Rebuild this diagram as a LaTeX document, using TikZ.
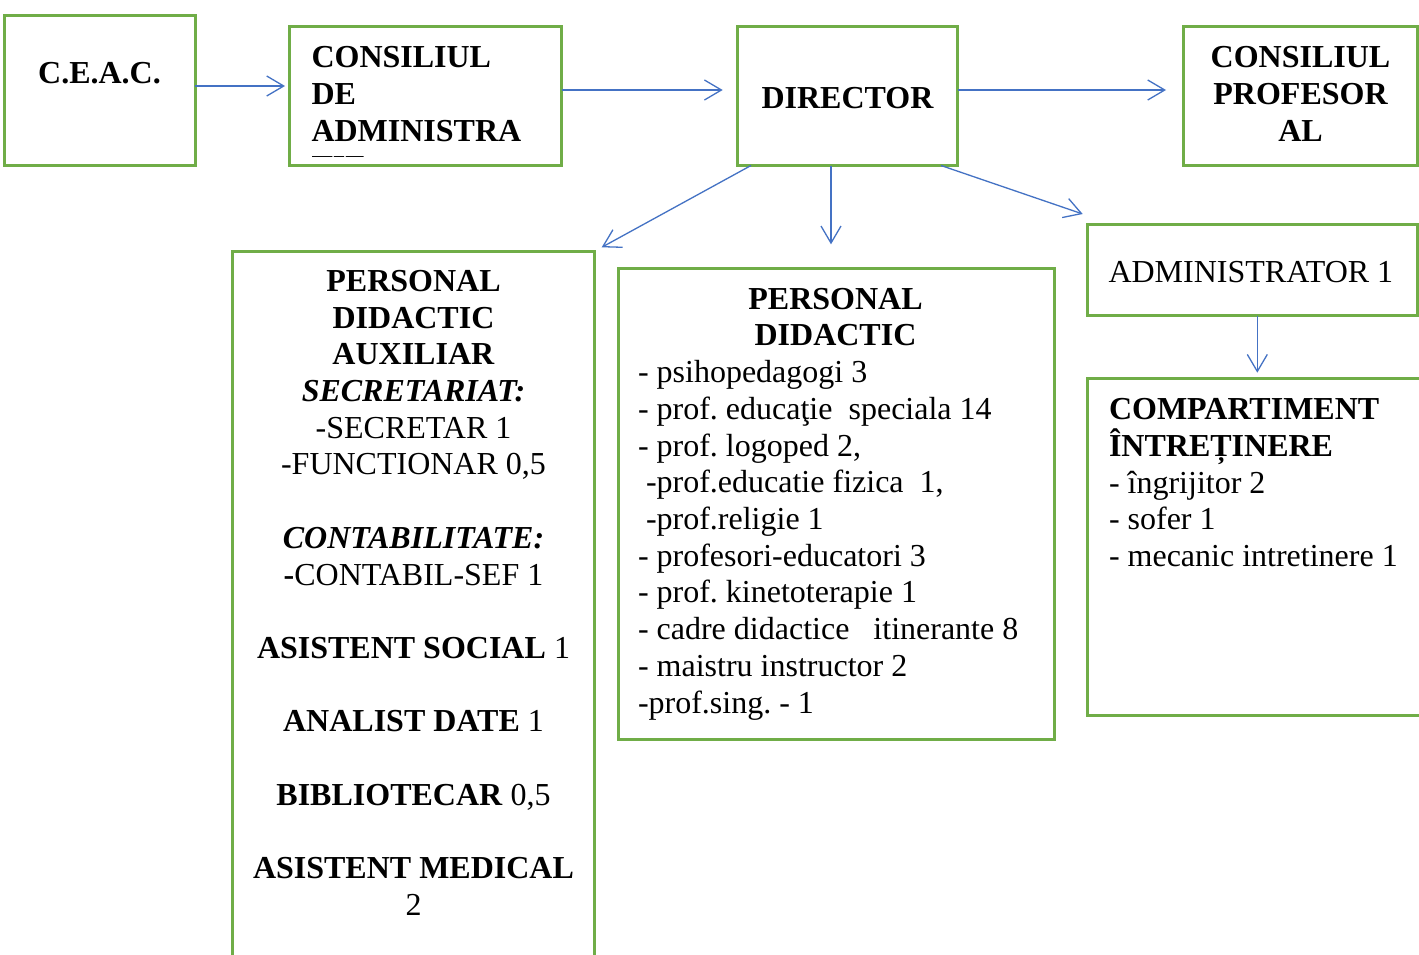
\documentclass[tikz,border=0pt]{standalone}
\usepackage{fontspec}
\setmainfont{Liberation Serif}
\frenchspacing
\usetikzlibrary{arrows.meta,calc}
\definecolor{boxgreen}{HTML}{70AD47}
\definecolor{arrblue}{HTML}{4472C4}
\begin{document}
\begin{tikzpicture}[x=0.5pt,y=-0.5pt,
  box/.style={draw=boxgreen,line width=1.5pt,inner sep=0pt,outer sep=0pt,anchor=center},
  txt/.style={inner sep=0pt,outer sep=0pt,font=\fontsize{16pt}{18.35pt}\selectfont\frenchspacing},
  btxt/.style={inner sep=0pt,outer sep=0pt,font=\fontsize{16pt}{18.35pt}\selectfont\bfseries\frenchspacing},
  arr/.style={draw=arrblue,line width=0.65pt,-{Straight Barb[length=8.5pt,width=10pt]}}]
\useasboundingbox (0,0) rectangle (1419,954);
\clip (0,0) rectangle (1419,954);
\fill[white] (0,0) rectangle (1419,954);
% boxes
\node[box,minimum width=95.25pt,minimum height=75pt] (ceac) at (99.75,90) {};
\node[box,minimum width=136pt,minimum height=69.75pt] (cda) at (425.5,95.75) {};
\node[box,minimum width=110.25pt,minimum height=69.75pt] (dir) at (847.25,95.75) {};
\node[box,minimum width=117pt,minimum height=69.75pt] (cp) at (1300.5,95.75) {};
\node[box,minimum width=165pt,minimum height=45.75pt] (admin) at (1252.5,269.75) {};
\node[box,minimum width=168.75pt,minimum height=168.75pt] (comp) at (1256.25,546.75) {};
\node[box,minimum width=181.25pt,minimum height=369.5pt] (pda) at (413.25,620.5) {};
\node[box,minimum width=218pt,minimum height=235.5pt] (pd) at (836.5,503.5) {};
% texts
\node[btxt,anchor=base] (ceact) at (99.5,83.5) {C.E.A.C.};
\begin{scope}
\clip (289.5,26) rectangle (561.5,156.8);
\node[btxt,anchor=north west,align=left] (cdat) at (311.5,46.7) {CONSILIUL\\DE\\ADMINISTRA\\ȚIE};
\end{scope}
\node[btxt,anchor=base] (dirt) at (847.5,108) {DIRECTOR};
\node[btxt,anchor=north,align=center] (cpt) at (1300.5,46.7) {CONSILIUL\\PROFESOR\\AL};
\node[txt,anchor=base west] (admint) at (1108.5,282.7) {ADMINISTRATOR 1};
\node[txt,anchor=north west,align=left] (compt) at (1109,398.5) {\textbf{COMPARTIMENT}\\\textbf{ÎNTREȚINERE}\\- îngrijitor 2\\- sofer 1\\- mecanic intretinere 1};
\node[txt,anchor=north,align=center] (pdat) at (413.5,270.2) {\textbf{PERSONAL}\\\textbf{DIDACTIC}\\\textbf{AUXILIAR}\\\textbf{\textit{SECRETARIAT:}}\\-SECRETAR 1\\-FUNCTIONAR 0,5\\[18.35pt]\textbf{\textit{CONTABILITATE:}}\\\textbf{-}CONTABIL-SEF 1\\[18.35pt]\textbf{ASISTENT SOCIAL} 1\\[18.35pt]\textbf{ANALIST DATE} 1\\[18.35pt]\textbf{BIBLIOTECAR} 0,5\\[18.35pt]\textbf{ASISTENT MEDICAL}\\2};
\node[btxt,anchor=north,align=center] (pdtt) at (835.5,288) {PERSONAL\\DIDACTIC};
\node[txt,anchor=north west,align=left] (pdl) at (638,360.5) {- psihopedagogi 3\\- prof. educaţie\ \ speciala 14\\- prof. logoped 2,\\\hspace*{4pt}-prof.educatie fizica\ \ 1,\\\hspace*{4pt}-prof.religie 1\\- profesori-educatori 3\\- prof. kinetoterapie 1\\- cadre didactice\ \ \ itinerante 8\\- maistru instructor 2\\-prof.sing. - 1};
% connectors
\draw[arr] ($(ceac.east)+(0,-4)$) -- ($(cda.west)+(-4.5,-9.75)$);
\draw[arr] ($(cda.east)+(0,-5.75)$) -- ($(dir.west)+(-14.3,-5.75)$);
\draw[arr] ($(dir.east)+(0,-5.75)$) -- ($(cp.west)+(-17.5,-5.75)$);
\draw[arr] ($(dir.south west)+(14,0)$) -- ($(pda.north east)+(7.2,-3.7)$);
\draw[arr] ($(dir.south)+(-16.25,0)$) -- ($(pd.north)+(-5.5,-23.7)$);
\draw[arr] ($(dir.south east)+(-16.5,0)$) -- ($(admin.north west)+(-4.8,-10)$);
\draw[arr] ($(admin.south)+(4.8,0)$) -- ($(comp.north)+(1.05,-5.3)$);
\end{tikzpicture}
\end{document}
